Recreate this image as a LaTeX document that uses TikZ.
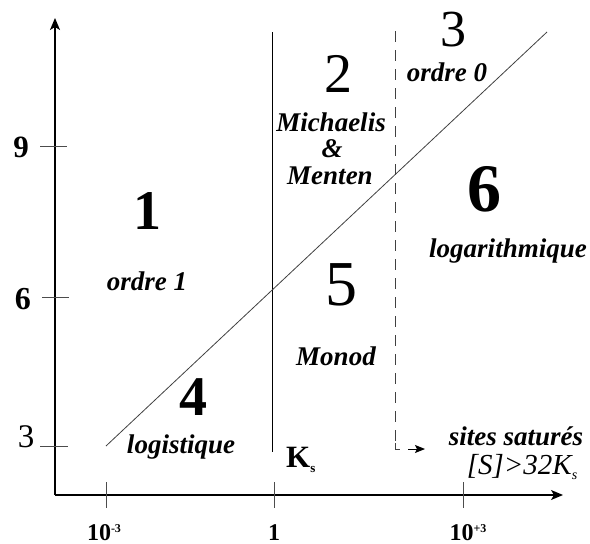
\documentclass[tikz,border=0pt]{standalone}
\usepackage{fontspec}
\setmainfont{Liberation Serif}
\usetikzlibrary{arrows.meta}
\begin{document}
\begin{tikzpicture}[x=1pt,y=-1pt,
  axis/.style={line width=1.3pt,-{Stealth[length=12pt,width=10pt,inset=3pt]}},
  tickmark/.style={line width=1pt,draw=black!70},
  divider/.style={line width=1pt},
  dashdiv/.style={line width=1pt,draw=black!75,dash pattern=on 11pt off 8pt},
  diag/.style={line width=0.8pt,draw=black!75},
  lbl/.style={inner sep=0pt,anchor=base,font=\bfseries\itshape\fontsize{27}{30}\selectfont},
  ilbl/.style={inner sep=0pt,anchor=base,font=\itshape\fontsize{29}{31}\selectfont},
  bignum/.style={inner sep=0pt,anchor=center},
  ticklbl/.style={inner sep=0pt,anchor=base,font=\bfseries\fontsize{24}{26}\selectfont},
  ylbl/.style={inner sep=0pt,anchor=center}
]
\useasboundingbox (0,0) rectangle (590,544);
% axes
\coordinate (O) at (55,495);
\coordinate (ytop) at (55,18);
\coordinate (xend) at (563,495);
\draw[axis] (O) -- (ytop);
\draw[axis] (O) -- (xend);
% y ticks
\coordinate (y9a) at (40,146); \coordinate (y9b) at (67,146);
\coordinate (y6a) at (42,297); \coordinate (y6b) at (69,297);
\coordinate (y3a) at (40,446); \coordinate (y3b) at (68,446);
\draw[tickmark] (y9a) -- (y9b);
\draw[tickmark] (y6a) -- (y6b);
\draw[tickmark] (y3a) -- (y3b);
\node[ylbl,font=\bfseries\fontsize{31}{32}\selectfont] (l9) at (21,147) {9};
\node[ylbl,font=\bfseries\fontsize{32}{33}\selectfont] (l6) at (23,299) {6};
\node[ylbl,font=\fontsize{33}{34}\selectfont] (l3) at (26,437) {3};
% x ticks
\coordinate (xa1) at (106,482); \coordinate (xa2) at (106,508);
\coordinate (xb1) at (274,482); \coordinate (xb2) at (274,508);
\coordinate (xc1) at (463,482); \coordinate (xc2) at (463,508);
\draw[tickmark] (xa1) -- (xa2);
\draw[tickmark] (xb1) -- (xb2);
\draw[tickmark] (xc1) -- (xc2);
\node[ticklbl] (lm3) at (104,540) {10\raisebox{8pt}{\fontsize{12}{12}\selectfont-3}};
\node[ticklbl] (l1) at (274,540) {1};
\node[ticklbl] (lp3) at (468,540) {10\raisebox{8pt}{\fontsize{12}{12}\selectfont+3}};
% dividers
\coordinate (v1t) at (272,32); \coordinate (v1b) at (272,452);
\draw[divider] (v1t) -- (v1b);
\coordinate (v2t) at (395,31); \coordinate (v2b) at (395,443);
\coordinate (v2c) at (395,449); \coordinate (v2e) at (400,449);
\draw[dashdiv] (v2t) -- (v2b);
\draw[line width=1pt,draw=black!75] (v2b) -- (v2c) -- (v2e);
\coordinate (ars) at (408,449); \coordinate (are) at (425,449);
\draw[line width=1pt,-{Stealth[length=10pt,width=8pt,inset=2pt]}] (ars) -- (are);
% diagonal
\coordinate (d1) at (106,446); \coordinate (d2) at (547,32);
\draw[diag] (d1) -- (d2);
% region numbers
\node[bignum,font=\bfseries\fontsize{56}{60}\selectfont] (n1) at (147,211) {1};
\node[bignum,font=\fontsize{56}{60}\selectfont] (n2) at (338,74) {2};
\node[bignum,font=\fontsize{52}{56}\selectfont] (n3) at (453,30) {3};
\node[bignum,font=\bfseries\fontsize{56}{60}\selectfont] (n4) at (193,397) {4};
\node[bignum,font=\fontsize{64}{68}\selectfont] (n5) at (341,285) {5};
\node[bignum,font=\bfseries\fontsize{68}{72}\selectfont] (n6) at (484,189) {6};
% region labels
\node[lbl] (t1) at (147,290) {ordre 1};
\node[lbl] (t2a) at (331,131) {Michaelis};
\node[lbl] (t2b) at (332,157) {\&};
\node[lbl] (t2c) at (330,184) {Menten};
\node[lbl] (t3) at (447,81) {ordre 0};
\node[lbl] (t6) at (508,257) {logarithmique};
\node[lbl] (t5) at (336,365) {Monod};
\node[lbl] (t4) at (181,453) {logistique};
\node[inner sep=0pt,anchor=base west,font=\bfseries\fontsize{31}{33}\selectfont] (ks) at (286,467) {K\raisebox{-5pt}{\fontsize{13}{13}\selectfont s}};
\node[lbl] (sat) at (516,445) {sites saturés};
\node[ilbl] (cond) at (522,474) {[S]>32K\raisebox{-5pt}{\fontsize{14}{14}\selectfont s}};
\end{tikzpicture}
\end{document}
